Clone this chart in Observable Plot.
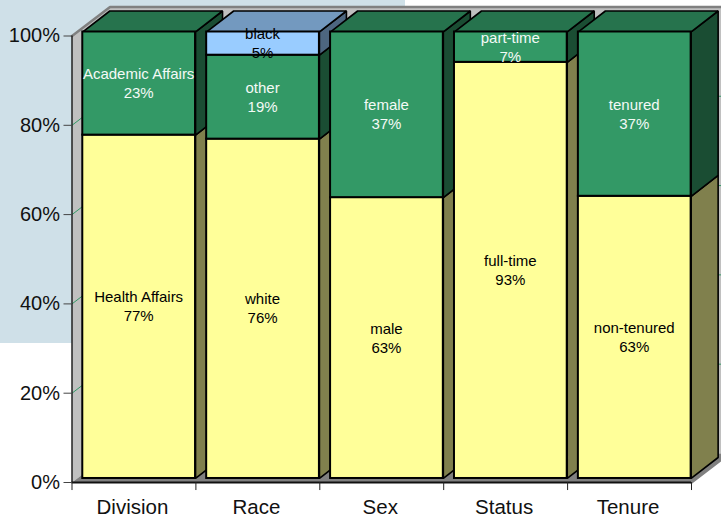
<!DOCTYPE html>
<html>
<head>
<meta charset="utf-8">
<script src="https://cdn.jsdelivr.net/npm/d3@7"></script>
<script src="https://cdn.jsdelivr.net/npm/@observablehq/plot@0.6"></script>
<style>
  html, body { margin: 0; padding: 0; background: #fff; width: 721px; height: 521px; overflow: hidden; }
  #panel { position: absolute; left: 0; top: 0; width: 405px; height: 343px; background: #cfe0e8; }
  #chart { position: absolute; left: 0; top: 0; }
  #chart svg { background: transparent; display: block; }
</style>
</head>
<body>
<div id="panel"></div>
<div id="chart"></div>
<script>
const categories = ["Division", "Race", "Sex", "Status", "Tenure"];
const lowerNames = ["Health Affairs", "white", "male", "full-time", "non-tenured"];
const lowerValues = [76.9, 76, 62.9, 93.2, 63.2];
const upperNames = ["Academic Affairs", "other", "female", "part-time", "tenured"];
const upperValues = [23.1, 18.8, 37.1, 6.8, 36.8];
const topNames = [null, "black", null, null, null];
const topValues = [0, 5.2, 0, 0, 0];
const yTicks = [0, 20, 40, 60, 80, 100];

const face = {
  yellow: {front: "#ffff99", side: "#80804d", top: "#bfbf73", text: "#000"},
  green: {front: "#339966", side: "#1a4d33", top: "#26734d", text: "#f4faf6"},
  blue: {front: "#99ccff", side: "#4d6680", top: "#7399bf", text: "#000"}
};

// 3D projection offsets, in scale units
const barLeft = 0.087, barRight = 0.997, baseLift = 0.9;
const depthX = 0.218, depthY = 4.7;
const wallX = 0.307, wallY = 6.5;

const closed = (pts, fill, stroke, strokeWidth) =>
  Plot.line(pts, {x: "x", y: "y", fill, stroke, strokeWidth, curve: "linear-closed", strokeLinejoin: "miter"});
const P = (x, y) => ({x, y});
const n = categories.length;

const walls = [
  closed([P(0, 0), P(0, 100), P(wallX, 100 + wallY), P(wallX, wallY)], "#c0c0c0", "none", 0),
  closed([P(wallX, wallY), P(wallX, 100 + wallY), P(n + wallX, 100 + wallY), P(n + wallX, wallY)], "#c0c0c0", "none", 0),
  closed([P(0, 0), P(n, 0), P(n + wallX, wallY), P(wallX, wallY)], "#808080", "none", 0),
  Plot.line([P(0, 100), P(wallX, 100 + wallY), P(n + wallX, 100 + wallY)], {x: "x", y: "y", stroke: "#808080", strokeWidth: 2.5}),
  Plot.line([P(n, 0), P(n + wallX, wallY)], {x: "x", y: "y", stroke: "#808080", strokeWidth: 2.5})
];

const grid = yTicks.slice(1, -1).map(v =>
  Plot.line([P(0, v), P(wallX, v + wallY), P(n + wallX, v + wallY)], {x: "x", y: "y", stroke: "#339966", strokeWidth: 1})
);

const texts = [];
const bars = categories.flatMap((c, i) => {
  const segs = [
    {name: lowerNames[i], value: lowerValues[i], col: face.yellow},
    {name: upperNames[i], value: upperValues[i], col: face.green},
    {name: topNames[i], value: topValues[i], col: face.blue}
  ].filter(s => s.value > 0);
  const l = i + barLeft, r = i + barRight;
  let base = baseLift;
  const sides = [], fronts = [];
  segs.forEach(s => {
    const a = base, b = base + s.value;
    sides.push(closed([P(r, a), P(r + depthX, a + depthY), P(r + depthX, b + depthY), P(r, b)], s.col.side, "#000", 1.6));
    fronts.push(Plot.rect([s], {x1: () => l, x2: () => r, y1: () => a, y2: () => b, fill: s.col.front, stroke: "#000", strokeWidth: 2, inset: 0}));
    texts.push({name: s.name, pct: Math.round(s.value) + "%", x: (l + r) / 2, y: (a + b) / 2, color: s.col.text});
    base = b;
  });
  const last = segs[segs.length - 1].col;
  const top = closed([P(l, base), P(r, base), P(r + depthX, base + depthY), P(l + depthX, base + depthY)], last.top, "#000", 1.6);
  return [...sides, top, ...fronts];
});

const plot = Plot.plot({
  width: 721,
  height: 521,
  marginLeft: 71.5,
  marginRight: 30,
  marginTop: 35.5,
  marginBottom: 39,
  style: {fontFamily: "'Liberation Sans', Arial, sans-serif", background: "transparent", overflow: "hidden"},
  x: {domain: [0, n]},
  y: {domain: [0, 100]},
  marks: [
    ...walls,
    ...grid,
    ...bars,
    Plot.text(texts, {x: "x", y: "y", text: d => d.name + "\n" + d.pct, fill: "color", fontSize: 15, lineHeight: 1.27, textAnchor: "middle", dy: -1, dx: -0.5}),
    Plot.ruleX([0], {stroke: "#222", strokeWidth: 1.5}),
    Plot.ruleY([0], {stroke: "#111", strokeWidth: 2}),
    Plot.axisY({ticks: yTicks, tickFormat: d => d + "%", tickSize: 8, tickPadding: 4, fontSize: 20, stroke: "#444", fill: "#111", label: null}),
    Plot.axisX({ticks: categories.map((c, i) => i + 0.5), tickFormat: v => categories[Math.floor(v)], tickSize: 0, tickPadding: 17, fontSize: 20.5, fill: "#111", label: null, dx: -1.5}),
    Plot.ruleX(d3.range(n + 1), {x: d => d, y1: 0, y2: -1.8, stroke: "#222", strokeWidth: 1})
  ]
});
document.getElementById("chart").append(plot);
</script>
</body>
</html>
